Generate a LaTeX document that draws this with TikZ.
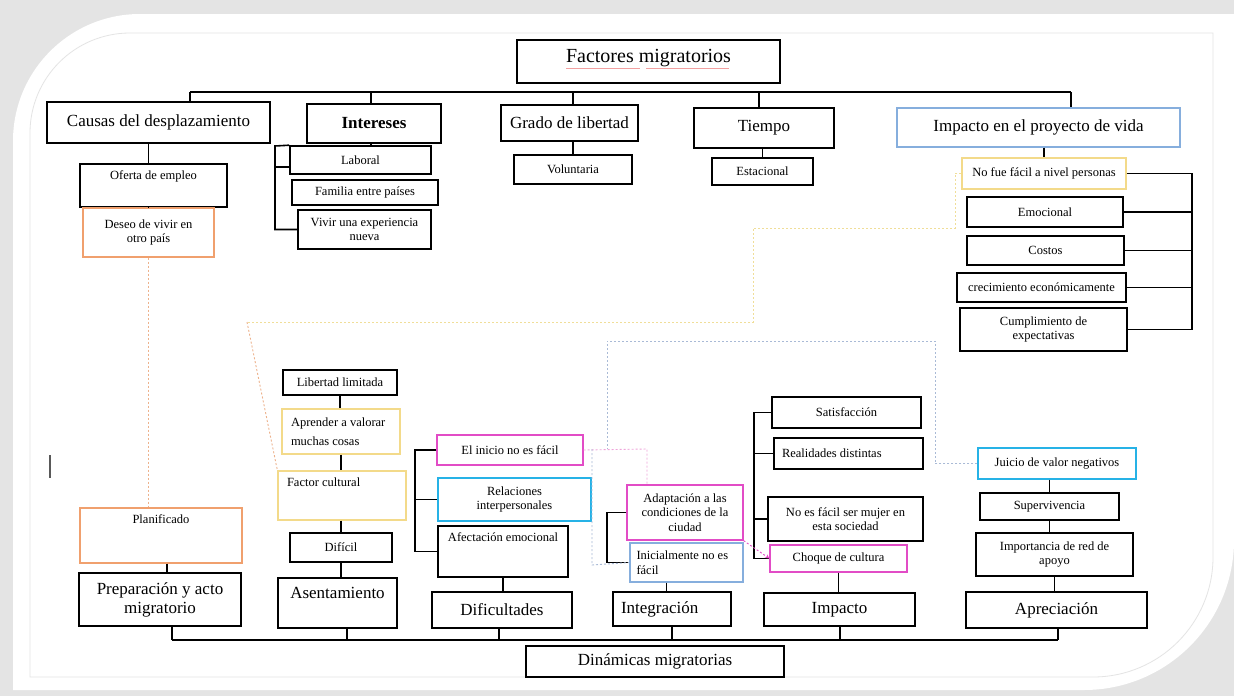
\documentclass[tikz,border=0pt]{standalone}
\usepackage{fontspec}
\setmainfont{Liberation Serif}
\definecolor{yelb}{HTML}{F3DA8A}
\definecolor{orgb}{HTML}{F0A06E}
\definecolor{magb}{HTML}{E24CC6}
\definecolor{cyab}{HTML}{26B2E6}
\definecolor{blub}{HTML}{86AEDD}
\definecolor{framegray}{HTML}{E4E4E4}
\definecolor{yeldash}{HTML}{F0DE98}
\definecolor{orgdash}{HTML}{EDB28C}
\definecolor{bludash}{HTML}{A9BAD6}
\definecolor{pinkdash}{HTML}{EFA3DA}
\definecolor{spellred}{HTML}{F2A0A0}
\newcommand{\lblsmall}{\fontsize{12.5}{14.5}\selectfont}
\newcommand{\lblbig}{\fontsize{17}{19}\selectfont}

\begin{document}
\begin{tikzpicture}[x=1pt, y=-1pt,
  box/.style={draw, line width=1.6pt, inner sep=3pt, align=center, font=\lblsmall},
  big/.style={box, font=\lblbig},
  topbox/.style={inner ysep=6pt, text height=9pt, text depth=#1},
  yellowbox/.style={box, draw=yelb, line width=1.2pt},
  orangebox/.style={box, draw=orgb, line width=1.2pt},
  pinkbox/.style={box, draw=magb, line width=1.2pt},
  cyanbox/.style={box, draw=cyab, line width=1.2pt},
  bluebox/.style={box, draw=blub, line width=1.2pt},
  link/.style={line width=1.6pt},
  dotlink/.style={line width=0.9pt, dash pattern=on 2pt off 2pt}]

% frame
\fill[framegray] (0,0) rectangle (1234,696);
\fill[white] (13,690) -- (13,141) arc[start angle=180, end angle=90, radius=127pt] -- (1234,14) -- (1234,540) arc[start angle=0, end angle=-90, radius=150pt] -- cycle;
\draw[framegray, line width=0.8pt] (30,677) -- (30,133) arc[start angle=180, end angle=90, radius=100pt] -- (1213,33) -- (1213,557) arc[start angle=0, end angle=-90, radius=120pt] -- cycle;

% factores migratorios
\node[big, font=\fontsize{20}{22}\selectfont, text height=14pt, text depth=13pt, minimum width=263pt, minimum height=43pt] (factores) at (648.5,61.5) {Factores migratorios};
\draw[spellred, line width=0.7pt] (566,68) -- (640,68) (646,68) -- (729,68);
\node[big, minimum width=223pt, minimum height=41pt] (causas) at (158.5,122.5) {Causas del desplazamiento};
\node[big, minimum width=134pt, minimum height=39pt, font=\lblbig\bfseries] (intereses) at (374,123.5) {Intereses};
\node[big, minimum width=137pt, minimum height=36pt] (grado) at (569.5,123) {Grado de libertad};
\node[big, minimum width=140pt, minimum height=40pt] (tiempo) at (764,128) {Tiempo};
\node[big, draw=blub, line width=1.2pt, minimum width=283pt, minimum height=39pt] (impactoproy) at (1038.5,127.5) {Impacto en el proyecto de vida};

\node[box, topbox=22pt, minimum width=147pt, minimum height=43pt] (oferta) at (153.5,185.5) {Oferta de empleo};
\node[orangebox, minimum width=131pt, minimum height=49pt] (deseo) at (148.5,232.5) {Deseo de vivir en\\otro país};

\node[box, minimum width=141pt, minimum height=28pt] (laboral) at (360.5,160) {Laboral};
\node[box, minimum width=146pt, minimum height=25pt] (familia) at (365,192.5) {Familia entre países};
\node[box, minimum width=133pt, minimum height=39pt] (vivir) at (364.5,229.5) {Vivir una experiencia\\nueva};

\node[box, minimum width=118pt, minimum height=29pt] (voluntaria) at (573,169.5) {Voluntaria};
\node[box, minimum width=101pt, minimum height=27pt] (estacional) at (762.5,171.5) {Estacional};

\node[yellowbox, minimum width=164pt, minimum height=31pt] (nofue) at (1044,173.5) {No fue fácil a nivel personas};
\node[box, minimum width=156pt, minimum height=30pt] (emocional) at (1045,212) {Emocional};
\node[box, minimum width=157pt, minimum height=29pt] (costos) at (1045.5,250.5) {Costos};
\node[box, minimum width=169pt, minimum height=29pt] (crecimiento) at (1041.5,287.5) {crecimiento económicamente};
\node[box, minimum width=167pt, minimum height=43pt] (cumplimiento) at (1043.5,329.5) {Cumplimiento de\\expectativas};

% dinamicas migratorias
\node[box, minimum width=114pt, minimum height=25pt] (libertad) at (340,382.5) {Libertad limitada};
\node[yellowbox, align=flush left, text width=100pt, minimum width=118pt, minimum height=45pt] (aprender) at (341,431.5) {Aprender a valorar\\[5pt]muchas cosas};
\node[yellowbox, topbox=28pt, align=flush left, text width=110pt, minimum width=128pt, minimum height=49pt] (factor) at (342,495.5) {Factor cultural};
\node[box, minimum width=102pt, minimum height=29pt] (dificil) at (341,547.5) {Difícil};
\node[big, inner ysep=8pt, text height=12pt, text depth=22pt, minimum width=119pt, minimum height=50pt] (asentamiento) at (337.5,603) {Asentamiento};

\node[orangebox, topbox=34pt, minimum width=162pt, minimum height=55pt] (planificado) at (161,535.5) {Planificado};
\node[big, minimum width=162pt, minimum height=53pt] (preparacion) at (160,599.5) {Preparación y acto\\migratorio};

\node[pinkbox, minimum width=146pt, minimum height=30pt] (inicio) at (510,450) {El inicio no es fácil};
\node[cyanbox, minimum width=153pt, minimum height=43pt] (relaciones) at (514.5,499.5) {Relaciones\\interpersonales};
\node[box, topbox=30pt, minimum width=130pt, minimum height=51pt] (afectacion) at (503,551.5) {Afectación emocional};
\node[big, minimum width=140pt, minimum height=36pt] (dificultades) at (502,610) {Dificultades};

\node[pinkbox, minimum width=116pt, minimum height=55pt] (adaptacion) at (685,512.5) {Adaptación a las\\condiciones de la\\ciudad};
\node[bluebox, align=flush left, text width=100pt, minimum width=113pt, minimum height=39pt] (inicialmente) at (686.5,562.5) {Inicialmente no es\\fácil};
\node[big, align=flush left, text width=102pt, minimum width=118pt, minimum height=34pt] (integracion) at (672,609) {Integración};

\node[box, minimum width=149pt, minimum height=31pt] (satisfaccion) at (846.5,412.5) {Satisfacción};
\node[box, align=flush left, text width=133pt, minimum width=149pt, minimum height=31pt] (realidades) at (848.5,453.5) {Realidades distintas};
\node[box, minimum width=155pt, minimum height=44pt] (mujer) at (845.5,519) {No es fácil ser mujer en\\esta sociedad};
\node[pinkbox, minimum width=137pt, minimum height=27pt] (choque) at (838.5,558.5) {Choque de cultura};
\node[big, minimum width=151pt, minimum height=33pt] (impacto) at (839.5,609.5) {Impacto};

\node[cyanbox, minimum width=158pt, minimum height=31pt] (juicio) at (1057,463.5) {Juicio de valor negativos};
\node[box, minimum width=139pt, minimum height=27pt] (supervivencia) at (1049.5,506.5) {Supervivencia};
\node[box, minimum width=157pt, minimum height=43pt] (importancia) at (1054.5,554.5) {Importancia de red de\\apoyo};
\node[big, minimum width=181pt, minimum height=36pt] (apreciacion) at (1056.5,610) {Apreciación};

\node[big, minimum width=258pt, minimum height=31pt] (dinamicas) at (655,661.5) {Dinámicas migratorias};

% top bus
\coordinate (busa) at (190,92);
\coordinate (busb) at (1071,92);
\draw[link] (busa) -- (busb);
\foreach \n/\x in {causas/190, intereses/371, grado/573, tiempo/759, impactoproy/1071}
  \draw[link] (\x,92) -- (\x,92 |- \n.north);

\draw[link] (deseo.north |- causas.south) -- (deseo.north |- oferta.north);
\draw[link] (deseo.north |- oferta.south) -- (deseo.north);
\draw[link] (intereses.south -| 371,0) -- (laboral.north -| 371,0);
\coordinate (bi) at (275,146);
\draw[link] (laboral.north west) -- (bi) |- (vivir.west);
\draw[link] (bi |- 0,167) -- (laboral.west |- 0,167);
\draw[link] (grado.south -| voluntaria.north) -- (voluntaria.north);
\draw[link] (estacional.north |- tiempo.south) -- (estacional.north);
\draw[link] (nofue.north |- impactoproy.south) -- (nofue.north);
\coordinate (br) at (1192,173.5);
\draw[link] (nofue.east) -- (br) |- (cumplimiento.east);
\foreach \n in {emocional, costos, crecimiento}
  \draw[link] (\n.east) -- (br |- \n.east);

% bottom trees
\draw[link] (libertad.south) -- (aprender.north -| libertad.south);
\draw[link] (aprender.south) -- (factor.north -| aprender.south);
\draw[link] (factor.south -| dificil.north) -- (dificil.north);
\draw[link] (dificil.south) -- (asentamiento.north -| dificil.south);
\draw[link] (planificado.south -| 167,0) -- (preparacion.north -| 167,0);

\coordinate (bd) at (415,450);
\draw[link] (inicio.west) -- (bd) |- (afectacion.west);
\draw[link] (bd |- relaciones.west) -- (relaciones.west);
\draw[link] (afectacion.south) -- (afectacion.south |- dificultades.north);

\coordinate (bg) at (607,512.5);
\draw[link] (adaptacion.west) -- (bg) |- (inicialmente.west);
\draw[link] ([xshift=-20pt]inicialmente.south) -- ([xshift=-20pt]inicialmente.south |- integracion.north);

\coordinate (bm) at (754,412.5);
\draw[link] (satisfaccion.west) -- (bm) |- (choque.west);
\foreach \n in {realidades, mujer}
  \draw[link] (bm |- \n.west) -- (\n.west);
\draw[link] (choque.south) -- (choque.south |- impacto.north);

\draw[link] (juicio.south -| supervivencia.north) -- (supervivencia.north);
\draw[link] (supervivencia.south) -- (supervivencia.south |- importancia.north);
\draw[link] (importancia.south) -- (importancia.south |- apreciacion.north);

% bottom bus
\coordinate (busc) at (172,640);
\coordinate (busd) at (1058,640);
\draw[link] (busc) -- (busd);
\foreach \n/\x in {preparacion/172, asentamiento/347, dificultades/499, integracion/672, impacto/840, apreciacion/1058}
  \draw[link] (\x,640) -- (\x,640 |- \n.south);

% dotted links
\draw[dotlink, orgdash] (deseo.south) -- (deseo.south |- planificado.north);
\coordinate (yc) at (247,322);
\draw[dotlink, yeldash] (nofue.west) -| (955,228) -- (753,228) -- (753,322) -- (yc);
\draw[dotlink, orgdash] (yc) -- (factor.north west);
\coordinate (bj) at (607,449);
\draw[dotlink, bludash] (juicio.west) -| (935,341) -- (607,341) -- (bj);
\draw[dotlink, pinkdash] (inicio.east) -- (647,449) -- (adaptacion.north -| 647,0);
\draw[dotlink, bludash] (592,449) -- (592,565) -- (inicialmente.west);
\draw[dotlink, magb, -stealth] (adaptacion.south east) -- (choque.west);

% mark
\draw[line width=1.4pt, gray!70!black] (50,455) -- (50,478);
\end{tikzpicture}
\end{document}
